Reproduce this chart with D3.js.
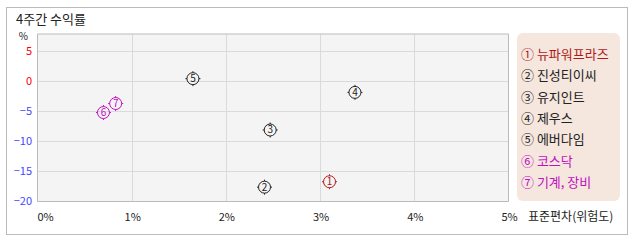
<!DOCTYPE html>
<head>
    <meta charset="utf-8">
    <script src="https://cdn.jsdelivr.net/npm/d3@7"></script>
</head>
<style>
    body { margin: 0; background: #fff; }
    text { font-family: "Noto Sans CJK KR", sans-serif; }
</style>
<body>
    <svg></svg>
</body>

<script>
    var vWidth = 638;
    var vHeight = 242;

    // data
    var names = ['뉴파워프라즈', '진성티이씨', '유지인트', '제우스', '에버다임', '코스닥', '기계, 장비'];
    var marks = ['①', '②', '③', '④', '⑤', '⑥', '⑦'];
    var risk = [3.10, 2.41, 2.47, 3.37, 1.65, 0.70, 0.83];
    var ret = [-16.8, -17.7, -8.2, -1.95, 0.33, -5.3, -3.8];
    var colors = ['#b01818', '#222', '#222', '#222', '#222', '#c010c0', '#c010c0'];
    var xTicks = [0, 1, 2, 3, 4, 5];
    var yTicks = [5, 0, -5, -10, -15, -20];

    var svg = d3.select('svg')
        .attr('width', vWidth)
        .attr('height', vHeight);

    // outer frame
    svg.append('rect')
        .attr('x', 6.5).attr('y', 7.5)
        .attr('width', 621).attr('height', 227)
        .attr('fill', '#fff').attr('stroke', '#bbb');

    svg.append('text')
        .attr('x', 16).attr('y', 24)
        .attr('font-size', 13).attr('fill', '#222')
        .text('4주간 수익률');

    var x = d3.scaleLinear().domain([0, 5]).range([37.5, 508.5]);
    var y = d3.scaleLinear().domain([-20, 7.75]).range([201, 34]);

    // plot background
    svg.append('rect')
        .attr('x', x(0)).attr('y', y(7.75))
        .attr('width', x(5) - x(0)).attr('height', y(-20) - y(7.75))
        .attr('fill', '#f4f4f4');

    // grid
    svg.selectAll('.vg').data(xTicks.slice(1, -1))
        .enter().append('line')
        .attr('x1', function (d) { return Math.round(x(d)) + 0.5; })
        .attr('x2', function (d) { return Math.round(x(d)) + 0.5; })
        .attr('y1', y(7.75)).attr('y2', y(-20))
        .attr('stroke', '#dadada');
    svg.selectAll('.hg').data(yTicks.slice(0, -1))
        .enter().append('line')
        .attr('x1', x(0)).attr('x2', x(5))
        .attr('y1', function (d) { return Math.round(y(d)) + 0.5; })
        .attr('y2', function (d) { return Math.round(y(d)) + 0.5; })
        .attr('stroke', '#dadada');

    // plot frame
    svg.append('path')
        .attr('d', 'M' + x(0) + ',' + y(7.75) + 'H' + x(5) + 'V' + (y(-20) + 0.5) + 'H' + x(0) + 'Z')
        .attr('fill', 'none').attr('stroke', '#bbb');

    // y labels
    svg.append('text')
        .attr('x', 28).attr('y', 40)
        .attr('text-anchor', 'end')
        .attr('font-size', 10).attr('fill', '#222')
        .text('%');
    svg.selectAll('.yl').data(yTicks)
        .enter().append('text')
        .attr('x', 32)
        .attr('y', function (d) { return y(d) + 4; })
        .attr('text-anchor', 'end')
        .attr('font-size', 11)
        .attr('fill', function (d) { return d >= 0 ? '#ff0000' : '#4646ff'; })
        .text(function (d) { return d < 0 ? '\u2212' + (-d) : d; });

    // x labels
    svg.selectAll('.xl').data(xTicks)
        .enter().append('text')
        .attr('x', function (d) { return d === 0 ? x(d) : x(d) + 1; })
        .attr('y', 221)
        .attr('text-anchor', function (d) { return d === 0 ? 'start' : 'middle'; })
        .attr('font-size', 11).attr('fill', '#222')
        .text(function (d) { return d + '%'; });
    svg.append('text')
        .attr('x', 528).attr('y', 221)
        .attr('font-size', 12).attr('fill', '#222')
        .text('표준편차(위험도)');

    // points
    var pts = svg.selectAll('.pt').data(d3.range(names.length))
        .enter().append('g')
        .attr('transform', function (i) { return 'translate(' + x(risk[i]) + ',' + y(ret[i]) + ')'; });
    pts.append('circle')
        .attr('r', 6)
        .attr('fill', 'none')
        .attr('stroke', function (i) { return colors[i]; });
    pts.append('path')
        .attr('d', 'M0,-7.5V-6M0,6V7.5M-7.5,0H-6M6,0H7.5')
        .attr('stroke', function (i) { return colors[i]; });
    pts.append('text')
        .attr('y', 3.5)
        .attr('text-anchor', 'middle')
        .attr('font-size', 10)
        .attr('fill', function (i) { return colors[i]; })
        .text(function (i) { return i + 1; });

    // legend
    svg.append('rect')
        .attr('x', 517).attr('y', 33)
        .attr('width', 103).attr('height', 168)
        .attr('rx', 6)
        .attr('fill', '#f5e6de');
    svg.selectAll('.lg').data(d3.range(names.length))
        .enter().append('text')
        .attr('x', 521)
        .attr('y', function (i) { return 59 + i * 21.3; })
        .attr('font-size', 13)
        .attr('fill', function (i) { return colors[i]; })
        .text(function (i) { return marks[i] + ' ' + names[i]; });
</script>
